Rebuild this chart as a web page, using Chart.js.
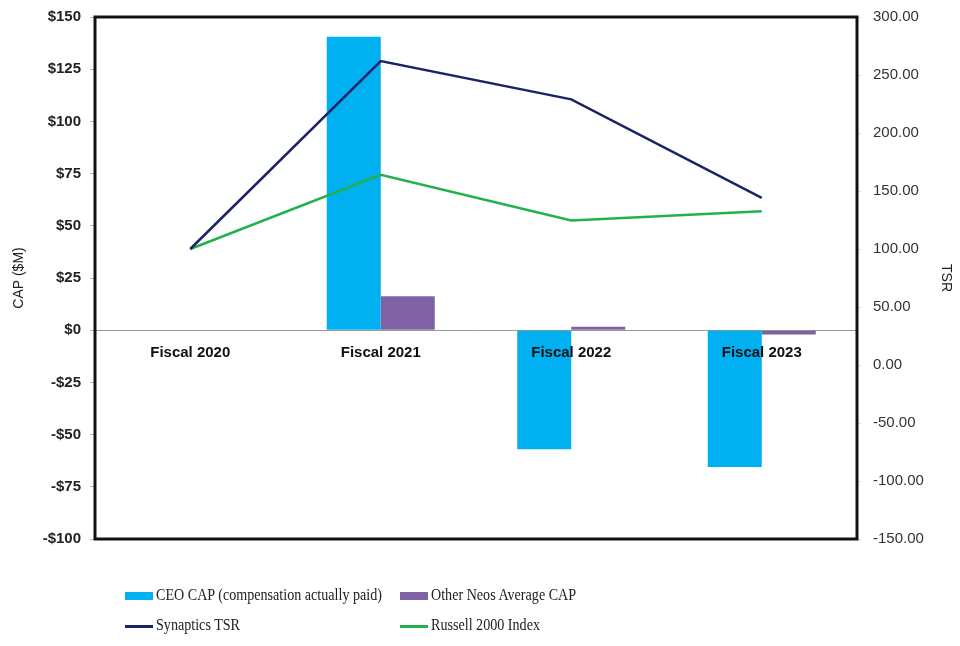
<!DOCTYPE html>
<html>
<head>
<meta charset="utf-8">
<script src="https://cdn.jsdelivr.net/npm/chart.js@4.4.0/dist/chart.umd.min.js"></script>
<style>
  body { margin: 0; background: #fff; }
  #wrap { position: relative; width: 960px; height: 646px; }
  .leg { position: absolute; font-family: "Liberation Serif", "Times New Roman", serif; font-size: 17px; color: #222; white-space: nowrap; transform: scaleX(0.83); transform-origin: left center; }
  .sw { position: absolute; width: 28px; }
</style>
</head>
<body>
<div id="wrap">
  <canvas id="capChart"></canvas>
</div>
<script>
// datos
const years = ['Fiscal 2020', 'Fiscal 2021', 'Fiscal 2022', 'Fiscal 2023'];
const ceoCap = [null, 140.5, -57, -65.5];
const otherNeosCap = [null, 16.3, 1.6, -2];
const synapticsTsr = [100, 262, 229, 144];
const russellTsr = [100, 164, 124.5, 132.5];

const capTicks = [-100, -75, -50, -25, 0, 25, 50, 75, 100, 125, 150];
const tsrTicks = [-150, -100, -50, 0, 50, 100, 150, 200, 250, 300];

const legendItems = [
    { label: 'CEO CAP (compensation actually paid)', color: '#00b0f0', kind: 'box', x: 125, y: 596 },
    { label: 'Other Neos Average CAP', color: '#7f62a3', kind: 'box', x: 400, y: 596 },
    { label: 'Synaptics TSR', color: '#1b2566', kind: 'line', x: 125, y: 626 },
    { label: 'Russell 2000 Index', color: '#22b14c', kind: 'line', x: 400, y: 626 }
];

// borde negro alrededor del area del grafico
const boxPlugin = {
    id: 'boxPlugin',
    afterDraw(chart) {
        const a = chart.chartArea;
        const ctx = chart.ctx;
        ctx.save();
        ctx.strokeStyle = '#111';
        ctx.lineWidth = 3;
        ctx.strokeRect(a.left, a.top, a.right - a.left, a.bottom - a.top);
        ctx.restore();
    }
};

(() => {
    const wrap = document.getElementById('wrap');
    legendItems.forEach((it) => {
        const sw = document.createElement('div');
        sw.className = 'sw';
        sw.style.left = it.x + 'px';
        sw.style.background = it.color;
        if (it.kind === 'box') { sw.style.height = '8px'; sw.style.top = (it.y - 4) + 'px'; }
        else { sw.style.height = '3px'; sw.style.top = (it.y - 1) + 'px'; }
        wrap.appendChild(sw);
        const t = document.createElement('div');
        t.className = 'leg';
        t.textContent = it.label;
        t.style.left = (it.x + 31) + 'px';
        t.style.top = (it.y - 11) + 'px';
        wrap.appendChild(t);
    });

    const graph = document.getElementById('capChart');
    window.myChart = new Chart(graph, {
        type: 'bar',
        data: {
            labels: years,
            datasets: [
                { type: 'line', label: 'Synaptics TSR', data: synapticsTsr, yAxisID: 'y1', borderColor: '#1b2566', borderWidth: 2.5, pointRadius: 0, tension: 0, order: 0 },
                { type: 'line', label: 'Russell 2000 Index', data: russellTsr, yAxisID: 'y1', borderColor: '#22b14c', borderWidth: 2.5, pointRadius: 0, tension: 0, order: 0 },
                { label: 'CEO CAP (compensation actually paid)', data: ceoCap, yAxisID: 'y', backgroundColor: '#00b0f0', order: 1 },
                { label: 'Other Neos Average CAP', data: otherNeosCap, yAxisID: 'y', backgroundColor: '#7f62a3', order: 1 }
            ]
        },
        options: {
            responsive: true,
            maintainAspectRatio: false,
            animation: false,
            datasets: { bar: { categoryPercentage: 0.567, barPercentage: 1.0 } },
            layout: { padding: { top: 17, bottom: 107, left: 11, right: 0 } },
            plugins: { legend: { display: false }, tooltip: { enabled: false } },
            scales: {
                x: {
                    position: { y: 0 },
                    offset: true,
                    grid: { display: true, drawOnChartArea: false, drawTicks: false },
                    border: { display: true, color: '#9a9a9a', width: 1 },
                    ticks: { z: 1, padding: 14, color: '#111', font: { family: 'Liberation Sans, Arial', size: 15, weight: 'bold' } }
                },
                y: {
                    position: 'left',
                    min: -100,
                    max: 150,
                    afterFit: (s) => { s.width = 84; s.paddingTop = 0; s.paddingBottom = 0; },
                    afterBuildTicks: (s) => { s.ticks = capTicks.map((v) => ({ value: v })); },
                    grid: { drawOnChartArea: false, drawTicks: true, tickLength: 5, color: '#bbb' },
                    border: { display: false },
                    title: { display: true, text: 'CAP ($M)', color: '#222', padding: { top: 0, bottom: 4 }, font: { family: 'Liberation Sans, Arial', size: 14 } },
                    ticks: {
                        padding: 9,
                        color: '#222',
                        font: { family: 'Liberation Sans, Arial', size: 15, weight: 'bold' },
                        callback: (v) => (v < 0 ? '-$' + Math.abs(v) : '$' + v)
                    }
                },
                y1: {
                    position: 'right',
                    min: -150,
                    max: 300,
                    afterFit: (s) => { s.width = 103; s.paddingTop = 0; s.paddingBottom = 0; },
                    afterBuildTicks: (s) => { s.ticks = tsrTicks.map((v) => ({ value: v })); },
                    grid: { drawOnChartArea: false, drawTicks: true, tickLength: 4, color: '#ddd' },
                    border: { display: false },
                    title: { display: true, text: 'TSR', color: '#222', padding: { top: 6, bottom: 2 }, font: { family: 'Liberation Sans, Arial', size: 14 } },
                    ticks: {
                        padding: 12,
                        color: '#333',
                        font: { family: 'Liberation Sans, Arial', size: 15 },
                        callback: (v) => v.toFixed(2)
                    }
                }
            }
        },
        plugins: [boxPlugin]
    });
})();
</script>
</body>
</html>
